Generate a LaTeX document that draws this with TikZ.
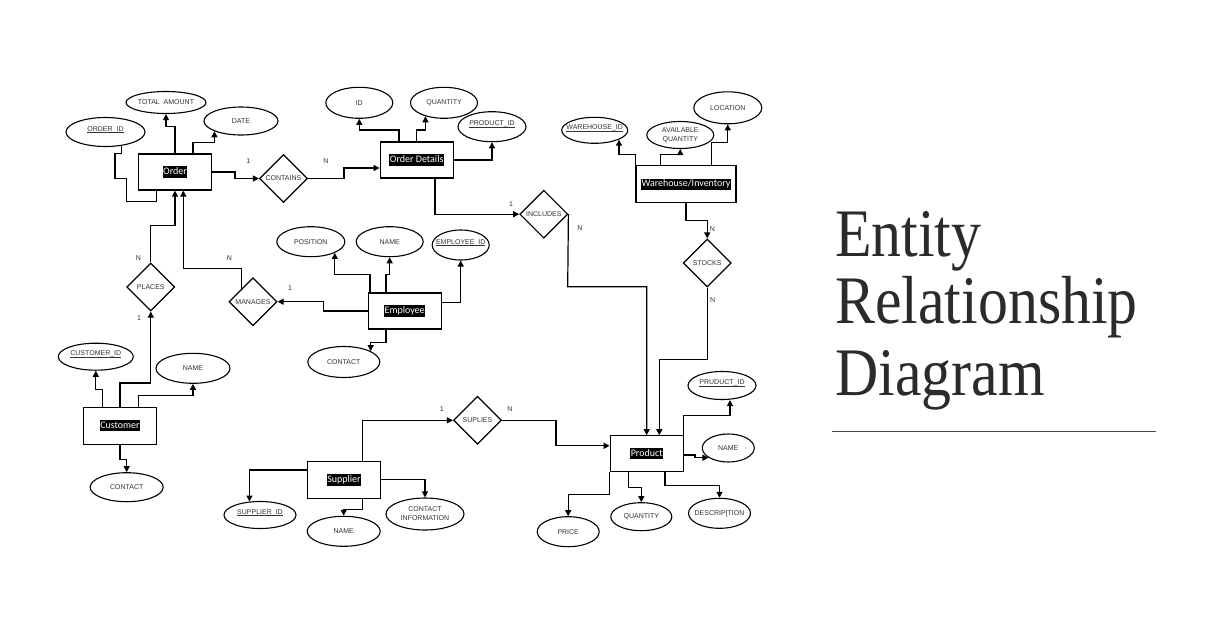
\documentclass[tikz,border=0pt]{standalone}
\usepackage{fontspec}
\usepackage{graphicx}
\setmainfont{Liberation Sans}
\newfontfamily\entfont{Carlito}
\newfontfamily\titlefont{Liberation Serif}
\usetikzlibrary{shapes.geometric,arrows.meta,backgrounds}
\setlength{\fboxsep}{0.6pt}
\newcommand{\entlabel}[1]{\colorbox{black}{\rule[-2.5pt]{0pt}{10pt}\textcolor{white}{#1}}}
\newcommand{\zt}[1]{\makebox[0pt]{#1}}
\newcommand{\zu}[1]{\makebox[0pt]{\underline{\smash{#1}}}}
\definecolor{txt}{HTML}{333333}
\definecolor{ttl}{HTML}{2B2B2B}
\tikzset{
  entity/.style={draw, line width=1.2pt, minimum width=73pt, minimum height=36pt,
    inner sep=0pt, fill=white, font=\entfont\fontsize{10}{12}\selectfont},
  attr/.style={draw, ellipse, line width=1.1pt, inner sep=0pt, fill=white,
    align=center, text=txt, font=\fontsize{7}{9}\selectfont},
  rel/.style={draw, diamond, line width=1.2pt, inner sep=0pt, fill=white,
    minimum width=48pt, minimum height=48pt, text=txt, font=\fontsize{7}{8}\selectfont},
  conn/.style={line width=1.2pt, line join=miter},
  arr/.style={conn, -{Triangle[length=6pt,width=6pt]}},
  card/.style={inner sep=0pt, text=txt, font=\fontsize{7}{8}\selectfont},
  ttlline/.style={anchor=base west, inner sep=0pt, text=ttl, font=\titlefont\fontsize{68}{70}\selectfont}
}
\begin{document}
\begin{tikzpicture}[x=1pt,y=-1pt]
\useasboundingbox (0,0) rectangle (1227,635);
% ---------- entities ----------
\node[entity] (order) at (175,172) {\entlabel{Order}};
\node[entity] (od) at (416.7,160) {\entlabel{Order Details}};
\node[entity, minimum width=100pt, minimum height=37pt] (wh) at (686,184.3) {\entlabel{Warehouse/Inventory}};
\node[entity] (emp) at (404.7,311) {\entlabel{Employee}};
\node[entity, minimum height=37pt] (cust) at (120,425.7) {\entlabel{Customer}};
\node[entity, minimum height=37pt] (sup) at (344,480) {\entlabel{Supplier}};
\node[entity] (prod) at (646.7,453.8) {\entlabel{Product}};
% ---------- relationships ----------
\node[rel] (contains) at (283.5,178.5) {CONTAINS};
\node[rel] (inc) at (543.8,214.2) {INCLUDES};
\node[rel] (stocks) at (707.2,263) {STOCKS};
\node[rel] (places) at (150.8,287) {PLACES};
\node[rel] (man) at (253,301.7) {MANAGES};
\node[rel] (supl) at (477.5,420.3) {SUPLIES};
% ---------- attributes ----------
\node[attr, minimum width=80pt, minimum height=22pt] (ta) at (166,102.5) {\zt{TOTAL\ \ AMOUNT}};
\node[attr, minimum width=74pt, minimum height=28pt] (date) at (241,121) {\zt{DATE}};
\node[attr, minimum width=79pt, minimum height=29pt] (oid) at (105.5,132) {\zu{ORDER\_ID}};
\node[attr, minimum width=67pt, minimum height=31pt] (id) at (359.3,102.8) {\zt{ID}};
\node[attr, minimum width=67pt, minimum height=31pt] (oq) at (444,102.8) {\zt{QUANTITY}};
\node[attr, minimum width=68pt, minimum height=30pt] (pid) at (492,126.7) {\zu{PRODUCT\_ID}};
\node[attr, minimum width=66pt, minimum height=26pt] (wid) at (594.7,130.3) {\zu{WAREHOUSE\_ID}};
\node[attr, minimum width=67pt, minimum height=27pt] (aq) at (680.3,135) {\zt{AVAILABLE}\\\zt{QUANTITY}};
\node[attr, minimum width=68pt, minimum height=32pt] (loc) at (727.8,107.8) {\zt{LOCATION}};
\node[attr, minimum width=68pt, minimum height=30pt] (pos) at (310.8,241.7) {\zt{POSITION}};
\node[attr, minimum width=67pt, minimum height=30pt] (en) at (389.7,241.7) {\zt{NAME}};
\node[attr, minimum width=57pt, minimum height=30pt] (eid) at (460.7,245) {\zu{EMPLOYEE\_ID}};
\node[attr, minimum width=72pt, minimum height=31pt] (ec) at (343.8,362) {\zt{CONTACT}};
\node[attr, minimum width=75pt, minimum height=27pt] (cid) at (95.8,356.7) {\zu{CUSTOMER\_ID}};
\node[attr, minimum width=74pt, minimum height=30pt] (cn) at (193,368.3) {\zt{NAME}};
\node[attr, minimum width=73pt, minimum height=29pt] (cc) at (126.7,487.2) {\zt{CONTACT}};
\node[attr, minimum width=72pt, minimum height=27pt] (sid) at (260,515) {\zu{SUPPLIER\_ID}};
\node[attr, minimum width=73pt, minimum height=30pt] (sn) at (343.7,531.3) {\zt{NAME}};
\node[attr, minimum width=78pt, minimum height=32pt] (ci) at (425,514) {\zt{CONTACT}\\\zt{INFORMATION}};
\node[attr, minimum width=68pt, minimum height=28pt] (ppid) at (722,385.5) {\zu{PRUDUCT\_ID}};
\node[attr, minimum width=52pt, minimum height=28pt] (pn) at (728.3,448) {\zt{NAME}};
\node[attr, minimum width=62pt, minimum height=30pt] (pdesc) at (719.5,513.3) {\zt{DESCRIP[TION}};
\node[attr, minimum width=61pt, minimum height=28pt] (pq) at (641.3,516.7) {\zt{QUANTITY}};
\node[attr, minimum width=62pt, minimum height=30pt] (price) at (568.2,531.7) {\zt{PRICE}};
% ---------- cardinality labels ----------
\node[card] (c1) at (248.3,161) {1};
\node[card] (c2) at (326,161) {N};
\node[card] (c3) at (511,204) {1};
\node[card] (c4) at (580,227.7) {N};
\node[card] (c5) at (712.3,229) {N};
\node[card] (c6) at (712.7,300) {N};
\node[card] (c7) at (138.3,258.3) {N};
\node[card] (c8) at (139,318.3) {1};
\node[card] (c9) at (229.3,258.3) {N};
\node[card] (c10) at (290,288.3) {1};
\node[card] (c11) at (441.7,409) {1};
\node[card] (c12) at (510,409) {N};
% ---------- title ----------
\node[ttlline] (t1) at (835,256.7) {\scalebox{0.88}[1]{Entity}};
\node[ttlline] (t2) at (835,323.3) {\scalebox{0.88}[1]{Relationship}};
\node[ttlline] (t3) at (835,395) {\scalebox{0.88}[1]{Diagram}};
\coordinate (sl) at (831.5,431.7);
\coordinate (sr) at (1155.5,431.7);
\draw[line width=0.9pt, color=black!70] (sl) -- (sr);
% ---------- connectors ----------
\begin{scope}[on background layer]
\fill[white] (0,0) rectangle (1227,635);
% Order
\draw[arr] (order.north) -- ++(0,-27) -| (ta.south);
\draw[arr] ([xshift=18pt]order.north) -- ++(0,-11) -| (date.south west);
\draw[conn] ([xshift=16.2pt]oid.center) |- (115,153.3) |- (126.7,178.3) |- (156.7,201.7) -- ([xshift=-18.3pt]order.south);
\draw[arr] (order.east) -- (235,172) |- (contains.west);
\draw[arr] (contains.east) -- (344,178.5) |- ([yshift=-8pt]od.west);
% Order details
\draw[arr] ([xshift=-17.7pt]od.north) -- ++(0,-11.5) -| (id.south);
\draw[arr] (od.north) -- ++(0,-11.5) -| (oq.216);
\draw[arr] (od.east) -| (pid.south);
\draw[arr] ([xshift=18.3pt]od.south) |- (inc.west);
\draw[arr] (inc.east) -- (567.7,286.7) -| (prod.north);
% Warehouse
\draw[arr] (wh.north west) -- ++(0,-11) -| (wid.339);
\draw[arr] ([xshift=-25.3pt]wh.north) -- ++(0,-11) -| (aq.south);
\draw[arr] ([xshift=25.7pt]wh.north) -- ++(0,-22.7) -| (loc.south);
\draw[arr] (wh.south) -- ++(0,17) -| (stocks.north);
\draw[arr] (stocks.south) -- (707.2,359.3) -| ([xshift=12.6pt]prod.north);
% Places / Manages
\draw[arr] (places.north) -- ++(0,-36.6) -| (order.south);
\draw[arr] ([xshift=-11.3pt]man.center) -- ++(0,-33.4) -| ([xshift=8.3pt]order.south);
\draw[arr] (cust.north) -- ++(0,-23.7) -| (places.south);
% Employee
\draw[arr] (emp.west) -- (323.3,311) |- (man.east);
\draw[arr] ([xshift=-34.7pt]emp.north) -- ++(0,-18) -| (pos.335);
\draw[arr] ([xshift=-18.7pt]emp.north) -- ++(0,-18) -| (en.south);
\draw[arr] ([yshift=8.3pt]emp.east) -| (eid.south);
\draw[arr] ([xshift=-18.7pt]emp.south) -- ++(0,12.7) -| (ec.22);
% Customer
\draw[arr] ([xshift=-17.7pt]cust.north) -- ++(0,-17) -| (cid.south);
\draw[arr] ([xshift=18.3pt]cust.north) -- ++(0,-11.3) -| (cn.south);
\draw[arr] (cust.south) -- ++(0,14.3) -| (cc.north);
% Supplier
\draw[arr] ([xshift=18.3pt]sup.north) |- (supl.west);
\draw[arr] (supl.east) -- (556,420.3) |- ([yshift=8pt]prod.west);
\draw[arr] ([yshift=10pt]sup.west) -| (sid.128);
\draw[arr] ([xshift=18.3pt]sup.south) -- ++(0,10.5) -| (sn.north);
\draw[arr] ([yshift=0.7pt]sup.east) -| (ci.north);
% Product
\draw[arr] ([xshift=36.6pt]prod.north) -- ++(0,-20) -| ([xshift=8pt]ppid.south);
\draw[arr] ([yshift=-1.2pt]prod.east) -- (695,455) |- (pn.206);
\draw[arr] ([xshift=18.3pt]prod.south) -- ++(0,13.3) -| (pdesc.north);
\draw[arr] ([xshift=-18.4pt]prod.south) -- ++(0,15) -| (pq.north);
\draw[arr] (prod.south west) -- ++(0,22.3) -| (price.north);
\end{scope}
\end{tikzpicture}
\end{document}
